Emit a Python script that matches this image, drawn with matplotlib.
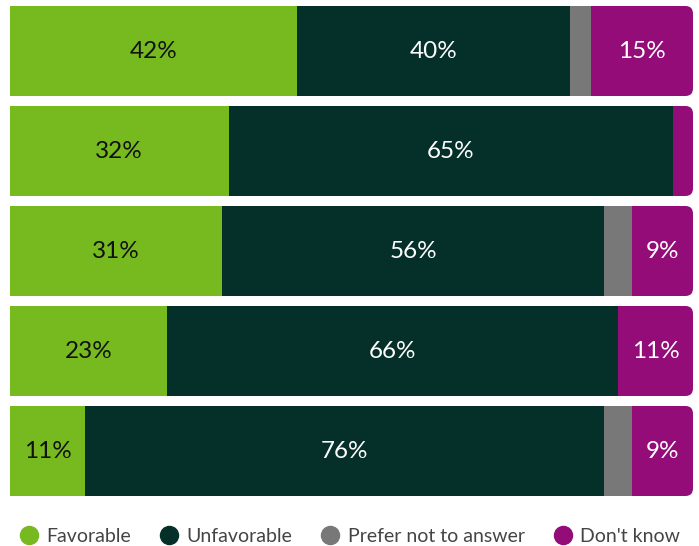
import matplotlib.pyplot as plt
from matplotlib.patches import FancyBboxPatch
from matplotlib.lines import Line2D

# Survey answers per row, in percent (top row first)
categories = ["Favorable", "Unfavorable", "Prefer not to answer", "Don't know"]
favorable = [42, 32, 31, 23, 11]
unfavorable = [40, 65, 56, 66, 76]
prefer_not = [3, 0, 4, 0, 4]
dont_know = [15, 3, 9, 11, 9]

colors = ["#76BA1F", "#05302A", "#787878", "#930C78"]
text_colors = ["#111111", "white", "white", "white"]

plt.rcParams["font.family"] = ["Lato", "DejaVu Sans"]

fig = plt.figure(figsize=(6.99, 5.46), dpi=100)
ax = fig.add_axes([10 / 699, 45 / 546, 683 / 699, 500 / 546])

series = [favorable, unfavorable, prefer_not, dont_know]
n = len(favorable)
ypos = list(range(n))
height = 0.9
r = 1.1  # corner radius in x units (~7 px)

for i in range(n):
    left = 0
    vals = [s[i] for s in series]
    last = max(k for k, v in enumerate(vals) if v > 0)
    for k, v in enumerate(vals):
        if v <= 0:
            continue
        if k == last:
            # square left part, rounded right end
            ax.barh(ypos[i], v - r, left=left, height=height,
                    color=colors[k], linewidth=0)
            box = FancyBboxPatch((left + v - 2 * r, ypos[i] - height / 2),
                                 2 * r, height,
                                 boxstyle=f"round,pad=0,rounding_size={r}",
                                 mutation_aspect=0.07,
                                 facecolor=colors[k], linewidth=0)
            ax.add_patch(box)
        else:
            ax.barh(ypos[i], v, left=left, height=height,
                    color=colors[k], linewidth=0)
        if v >= 5:
            ax.text(left + v / 2, ypos[i], f"{v}%", ha="center", va="center",
                    color=text_colors[k], fontsize=17.5)
        left += v

ax.set_xlim(0, 100)
ax.set_ylim(n - 0.5, -0.5)
ax.axis("off")

handles = [Line2D([], [], marker="o", linestyle="", markersize=13,
                  markerfacecolor=c, markeredgecolor=c) for c in colors]
fig.legend(handles, categories, loc="center", ncol=4, frameon=False,
           bbox_to_anchor=(0.5, 10 / 546), fontsize=14, labelcolor="#444444",
           handletextpad=0.4, columnspacing=1.45, handlelength=1.0)

fig.savefig("out.png", dpi=100)
